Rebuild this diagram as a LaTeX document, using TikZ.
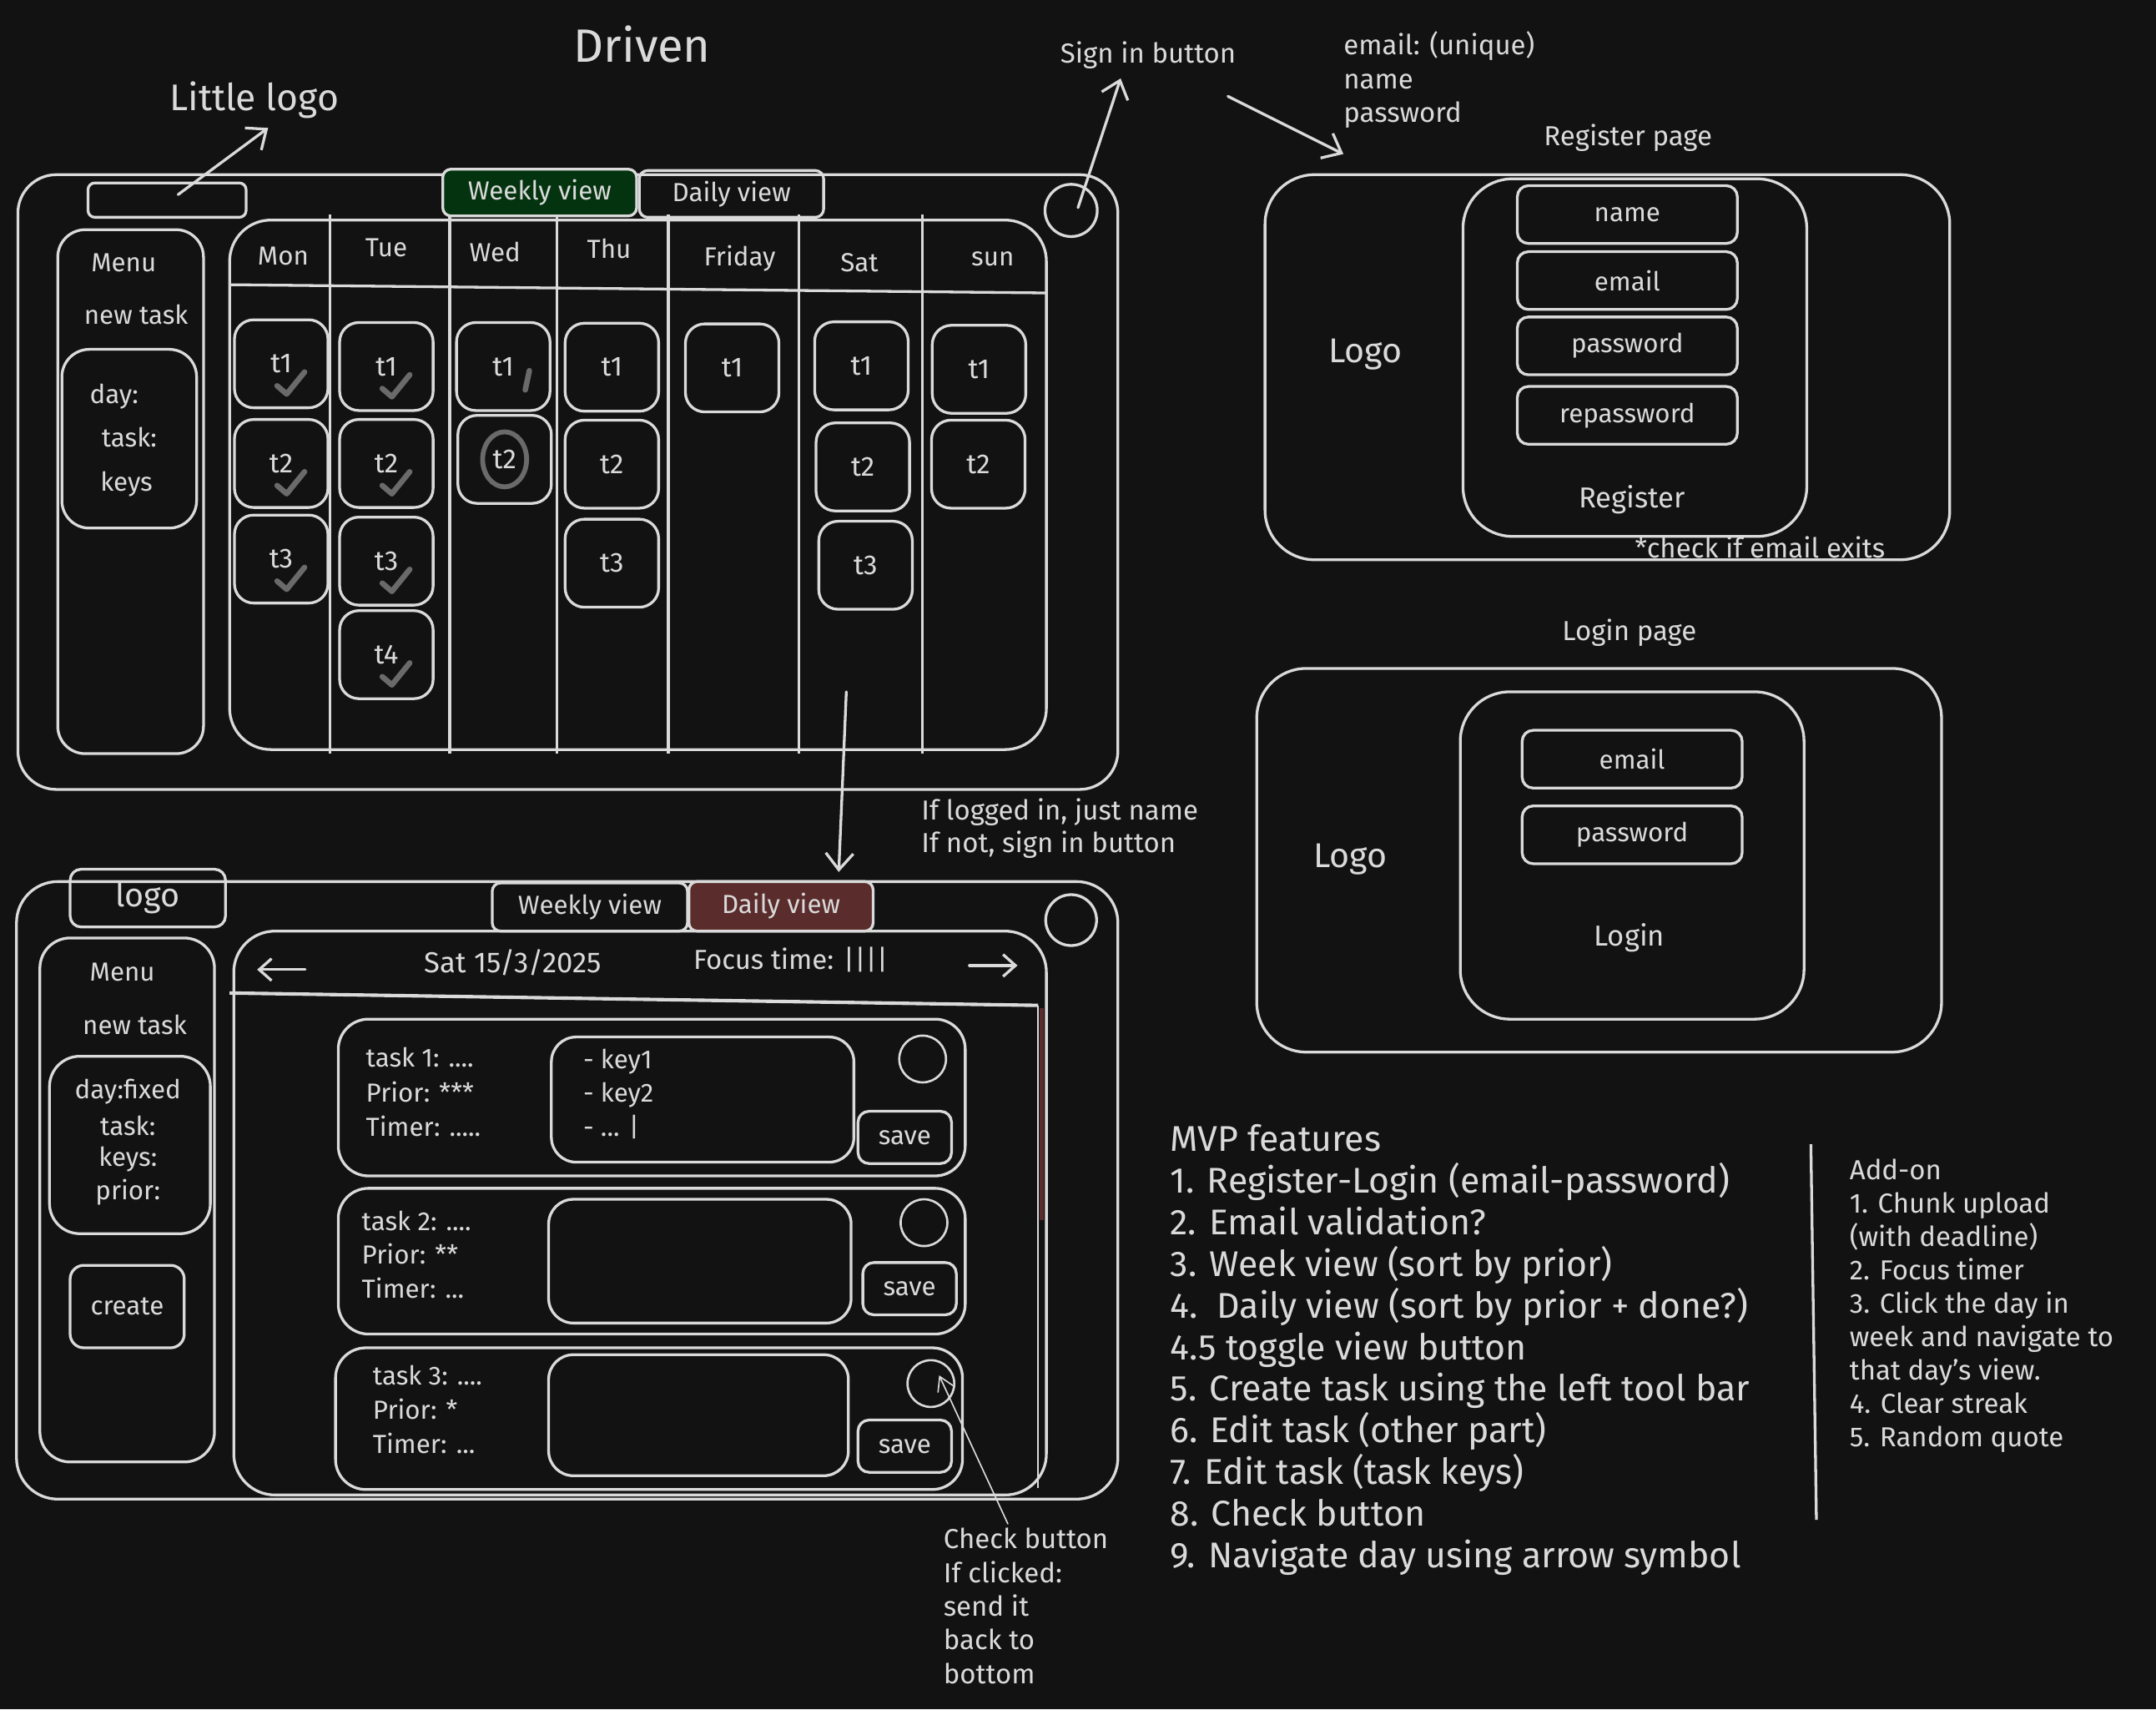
\documentclass[tikz,border=0pt]{standalone}
\usepackage{fontspec}
\setmainfont{Fira Sans}
\usetikzlibrary{arrows.meta,positioning}
\definecolor{board}{HTML}{121212}
\definecolor{ink}{HTML}{DADADA}
\definecolor{tickgray}{HTML}{6A6A6A}
\definecolor{weekgreen}{HTML}{04330F}
\definecolor{dayred}{HTML}{5B2C2C}
\newcommand\fsz[1]{\fontsize{#1}{#1}\selectfont}

\begin{document}
\begin{tikzpicture}[x=1pt, y=-1pt,
  every node/.style={text=ink},
  lbl/.style={font=\fsz{19}},
  note/.style={font=\fsz{20}, anchor=base west, inner sep=0pt},
  feat/.style={font=\fsz{26}, anchor=base west, inner sep=0pt},
  cardtxt/.style={note, font=\fsz{19}},
  box/.style={draw=ink, line width=2pt, inner sep=0pt},
  wh/.style 2 args={minimum width=#1pt, minimum height=#2pt},
  task/.style={box, wh={68}{64}, rounded corners=14pt, font=\fsz{20}},
  field/.style={box, wh={160}{42}, rounded corners=8pt, font=\fsz{19}},
  savebtn/.style={box, wh={68}{38}, rounded corners=8pt, font=\fsz{19}},
  dot/.style={box, circle, line width=1.6pt, minimum size=34pt},
  rule/.style={draw=ink, line width=2pt},
  arr/.style={draw=ink, line width=2pt, line cap=round, -{Straight Barb[length=12pt, width=20pt]}},
  tickmark/.style={draw=tickgray, line width=4pt, line cap=round, line join=round}
]
\useasboundingbox (0,0) rectangle (1568,1243);
\fill[board] (0,0) rectangle (1568,1243);

% titles and notes
\node[font=\fsz{34}] (title) at (467,32) {Driven};
\node[font=\fsz{27}] (littlelogo) at (185,73) {Little logo};
\node[font=\fsz{20}] (signin) at (835,40) {Sign in button};
\foreach \ln [count=\i from 0] in {email: (unique), name, password}
  \node[note] (regnote\i) at (977,40+24.5*\i) {\ln};
\foreach \ln [count=\i from 0] in {{If logged in, just name}, {If not, sign in button}}
  \node[note] (lognote\i) at (670,596+24*\i) {\ln};

% weekly view
\node[box, wh={800}{447}, rounded corners=28pt] (wkframe) at (413,350.5) {};
\node[box, wh={115}{25}, rounded corners=5pt] (wklogo) at (121.5,145.5) {};
\node[box, wh={141}{34}, rounded corners=6pt, fill=weekgreen, font=\fsz{19}] (wkweek) at (392.5,140) {Weekly view};
\node[box, wh={134}{34}, rounded corners=6pt, font=\fsz{19}] (wkday) at (532,141) {Daily view};
\node[box, circle, minimum size=38pt] (wkavatar) at (779,153) {};
\node[box, wh={106}{381}, rounded corners=20pt] (wkmenu) at (95,357.5) {};
\node[lbl] (wkmenut) at (90,191) {Menu};
\node[lbl] (wknew) at (99,229) {new task};
\node[box, wh={98}{130}, rounded corners=20pt] (wkinfo) at (94,319) {};
\node[lbl] (wkinfo1) at (83,288) {day:};
\node[lbl] (wkinfo2) at (94,318) {task:};
\node[lbl] (wkinfo3) at (92,352) {keys};
\node[box, wh={594}{385}, rounded corners=30pt] (wkcal) at (464,352.5) {};
\draw[rule] (167,207) -- (761,213);
\foreach \x in {240,327,405,486,581,671}
  \draw[rule] (\x,156) -- (\x,548);
\foreach \nm/\x/\y in {Mon/206/186, Tue/281/180, Wed/360/183, Thu/443/181, Friday/538/188, Sat/625/191, sun/722/188}
  \node[lbl] (day\nm) at (\x,\y) {\nm};
\foreach \nm/\x/\y/\lb in {
  mon1/204.5/264.5/t1, mon2/204.5/337/t2, mon3/204.5/406.5/t3,
  tue1/281/266.5/t1, tue2/281/337/t2, tue3/281/408/t3, tue4/281/476/t4,
  wed1/366/266.5/t1, wed2/367/334/t2,
  thu1/445/267/t1, thu2/445/337.5/t2, thu3/445/409.5/t3,
  fri1/532.5/267.5/t1,
  sat1/626.5/266/t1, sat2/627.5/339.5/t2, sat3/629.5/411/t3,
  sun1/712/268.5/t1, sun2/711.5/337.5/t2}
  \node[task] (\nm) at (\x,\y) {\lb};
% done marks
\foreach \nm in {mon1,mon2,mon3,tue1,tue2,tue3,tue4}
  \draw[tickmark] ([shift={(-3,16)}]\nm.center) -- ([shift={(4,22)}]\nm.center) -- ([shift={(17,6)}]\nm.center);
\draw[tickmark] ([shift={(19,3)}]wed1.center) -- ([shift={(16,17)}]wed1.center);
\draw[tickmark, line width=3.5pt] (wed2.center) ellipse [x radius=16pt, y radius=20pt];

% daily view
\node[box, wh={801}{449}, rounded corners=30pt] (dyframe) at (412.5,865.5) {};
\node[box, wh={113}{42}, rounded corners=8pt, font=\fsz{24}] (dylogo) at (107.5,653) {logo};
\node[box, wh={142}{35}, rounded corners=6pt, font=\fsz{19}] (dyweek) at (429,659.5) {Weekly view};
\node[box, wh={134}{36}, rounded corners=6pt, fill=dayred, font=\fsz{19}] (dyday) at (568,659) {Daily view};
\node[box, circle, minimum size=37pt] (dyavatar) at (779,669) {};
\node[box, wh={127}{381}, rounded corners=22pt] (dymenu) at (92.5,872.5) {};
\node[lbl] (dymenut) at (89,707) {Menu};
\node[lbl] (dynew) at (98,745) {new task};
\node[box, wh={117}{129}, rounded corners=22pt] (dyinfo) at (94.5,832.5) {};
\foreach \lb [count=\i from 0] in {day:fixed, task:, keys:, prior:}
  \node[lbl] (dyinfo\i) at (93,794+24.3*\i) {\lb};
\node[box, wh={83}{60}, rounded corners=10pt, font=\fsz{19}] (dycreate) at (92.5,950) {create};
\node[box, wh={591}{410}, rounded corners=30pt] (dybody) at (465.5,882) {};
\draw[rule, line width=2.5pt] (167,722) -- (755,731);
\draw[draw=ink, line width=1.2pt] (755,731) -- (755,1082);
\draw[draw=dayred, line width=3pt] (757.5,733) -- (757.5,887);
\coordinate (prevtail) at (222,705);
\coordinate (prevhead) at (187,705);
\coordinate (nexttail) at (705,702);
\coordinate (nexthead) at (740,702);
\draw[arr, -{Straight Barb[length=9pt, width=16pt]}] (prevtail) -- (prevhead);
\draw[arr, -{Straight Barb[length=9pt, width=16pt]}] (nexttail) -- (nexthead);
\node[font=\fsz{21}] (dydate) at (373,700) {Sat 15/3/2025};
\node[font=\fsz{20}] (dyfocus) at (575,698) {Focus time: ||||};

% task cards
\foreach \k/\cx/\cy/\h in {1/474/798/114, 2/474/917/106, 3/472/1031.5/103}
  \node[box, wh={456}{\h}, rounded corners=22pt] (card\k) at (\cx,\cy) {};
\node[box, wh={220}{91}, rounded corners=18pt] (keys1) at (511,799.5) {};
\node[box, wh={220}{90}, rounded corners=18pt] (keys2) at (509,917) {};
\node[box, wh={218}{88}, rounded corners=18pt] (keys3) at (508,1029) {};
\node[dot] (chk1) at (671,770) {};
\node[dot] (chk2) at (672,889) {};
\node[dot] (chk3) at (677,1006) {};
\node[savebtn] (save1) at (658,827) {save};
\node[savebtn] (save2) at (661.5,937) {save};
\node[savebtn] (save3) at (658,1051.5) {save};
\node[cardtxt] (cardA0) at (266,776) {task 1: ....};
\node[cardtxt] (cardA1) at (266,801) {Prior: ***};
\node[cardtxt] (cardA2) at (266,826) {Timer: .....};
\node[cardtxt] (cardB0) at (263,895) {task 2: ....};
\node[cardtxt] (cardB1) at (263,919) {Prior: **};
\node[cardtxt] (cardB2) at (263,944) {Timer: ...};
\node[cardtxt] (cardC0) at (271,1007) {task 3: ....};
\node[cardtxt] (cardC1) at (271,1032) {Prior: *};
\node[cardtxt] (cardC2) at (271,1057) {Timer: ...};
\node[cardtxt] (keyln0) at (424,777) {- key1};
\node[cardtxt] (keyln1) at (424,801.5) {- key2};
\node[cardtxt] (keyln2) at (424,826) {- ... |};
\foreach \ln [count=\i from 0] in {Check button, If clicked:, send it, back to, bottom}
  \node[note] (chknote\i) at (686,1126+24.5*\i) {\ln};
\draw[arr, line width=1pt, -{Straight Barb[length=10pt, width=12pt]}] ([shift={(47,-18)}]chknote0.base west) -- ([shift={(6,-6)}]chk3.center);

% register page
\node[font=\fsz{20}] (regtitle) at (1184,100) {Register page};
\node[box, wh={498}{280}, rounded corners=36pt] (regouter) at (1169,267) {};
\node[box, wh={250}{260}, rounded corners=36pt] (reginner) at (1189,260) {};
\foreach \nm/\y in {name/156, email/204, password/251.5, repassword/302}
  \node[field] (reg\nm) at (1183.5,\y) {\nm};
\node[font=\fsz{21}] (regbtn) at (1187,363) {Register};
\node[font=\fsz{25}] (reglogo) at (993,258) {Logo};
\node[font=\fsz{20}] (regcheck) at (1280,398) {*check if email exits};

% login page
\node[font=\fsz{20}] (logtitle) at (1185,460) {Login page};
\node[box, wh={498}{279}, rounded corners=36pt] (logouter) at (1163,625.5) {};
\node[box, wh={250}{238}, rounded corners=36pt] (loginner) at (1187,622) {};
\node[field] (logemail) at (1187,552) {email};
\node[field] (logpass) at (1187,607) {password};
\node[font=\fsz{21}] (logbtn) at (1185,682) {Login};
\node[font=\fsz{25}] (loglogo) at (982,625) {Logo};

% feature lists
\foreach \ln [count=\i from 0] in {MVP features, 1. Register-Login (email-password), 2. Email validation?, 3. Week view (sort by prior), 4.\ \ Daily view (sort by prior + done?), 4.5 toggle view button, 5. Create task using the left tool bar, 6. Edit task (other part), 7. Edit task (task keys), 8. Check button, 9. Navigate day using arrow symbol}
  \node[feat] (feat\i) at (851,837+30.3*\i) {\ln};
\draw[rule] (1317,832) -- (1321,1105);
\foreach \ln [count=\i from 0] in {Add-on, 1. Chunk upload, (with deadline), 2. Focus timer, 3. Click the day in, week and navigate to, that day's view., 4. Clear streak, 5. Random quote}
  \node[note] (addon\i) at (1345,858+24.25*\i) {\ln};

% connectors
\draw[arr] ([shift={(8,-4)}]wklogo.center) -- ([shift={(10,20)}]littlelogo.center);
\draw[arr] ([shift={(5,-2)}]wkavatar.center) -- ([shift={(-20,17)}]signin.center);
\draw[arr] ([shift={(58,30)}]signin.center) -- ([shift={(58,-14)}]regouter.north west);
\draw[arr] ([shift={(-14,59)}]sat3.south) -- ([shift={(42,-6)}]dyday.north);
\end{tikzpicture}
\end{document}
